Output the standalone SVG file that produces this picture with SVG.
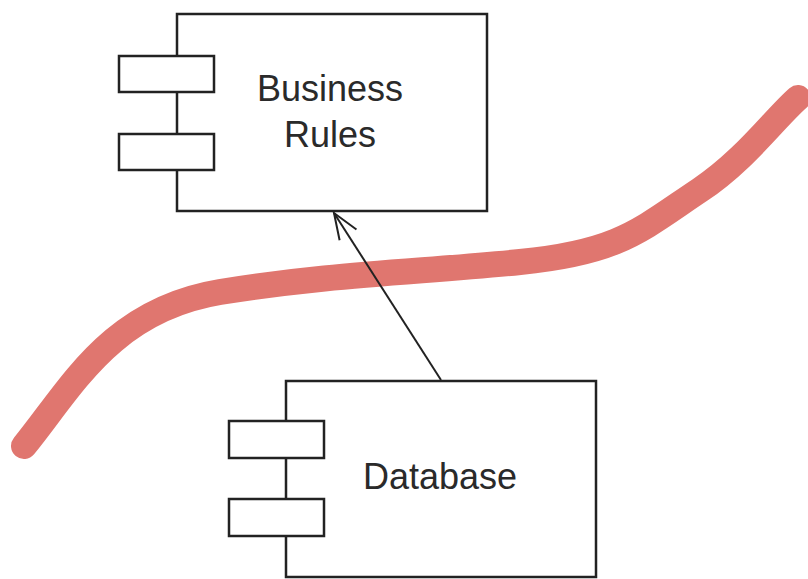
<svg xmlns="http://www.w3.org/2000/svg" width="808" height="579" viewBox="0 0 808 579">
  <defs>
    <style>
      .box { fill: #ffffff; stroke: #222222; stroke-width: 2.5; }
      .port { fill: #ffffff; stroke: #222222; stroke-width: 2.5; }
      .label { font-family: "Liberation Sans", Arial, sans-serif; font-size: 36px; fill: #2a2a2a; text-anchor: middle; }
      .edge { fill: none; stroke: #222222; stroke-width: 2; }
      .boundary { fill: none; stroke: #e0766f; stroke-width: 26; stroke-linecap: round; stroke-linejoin: round; }
    </style>
    <marker id="openArrow" markerUnits="userSpaceOnUse" markerWidth="32" markerHeight="32" viewBox="0 0 32 32" refX="29" refY="16" orient="auto">
      <path d="M3,6 L29,16 L3,26" fill="none" stroke="#222222" stroke-width="2"/>
    </marker>
  </defs>
  <rect width="808" height="579" fill="#ffffff"/>

  <g id="boundary">
    <path class="boundary" d="M24 446 C 70 390, 110 310, 220 292 S 420 272, 520 262 S 640 230, 700 190 C 745 160, 775 118, 798 98"/>
  </g>

  <g id="business-rules">
    <rect class="box" x="177" y="14" width="310" height="197"/>
    <rect class="port" x="119" y="56" width="95" height="36"/>
    <rect class="port" x="119" y="134" width="95" height="36"/>
    <text class="label" x="330" y="101">Business</text>
    <text class="label" x="330" y="147">Rules</text>
  </g>

  <g id="database">
    <rect class="box" x="286" y="381" width="310" height="196"/>
    <rect class="port" x="229" y="421" width="95" height="37"/>
    <rect class="port" x="229" y="499" width="95" height="37"/>
    <text class="label" x="440" y="489">Database</text>
  </g>

  <g id="connectors">
    <line class="edge" x1="441" y1="380" x2="334" y2="213" marker-end="url(#openArrow)"/>
  </g>
</svg>
